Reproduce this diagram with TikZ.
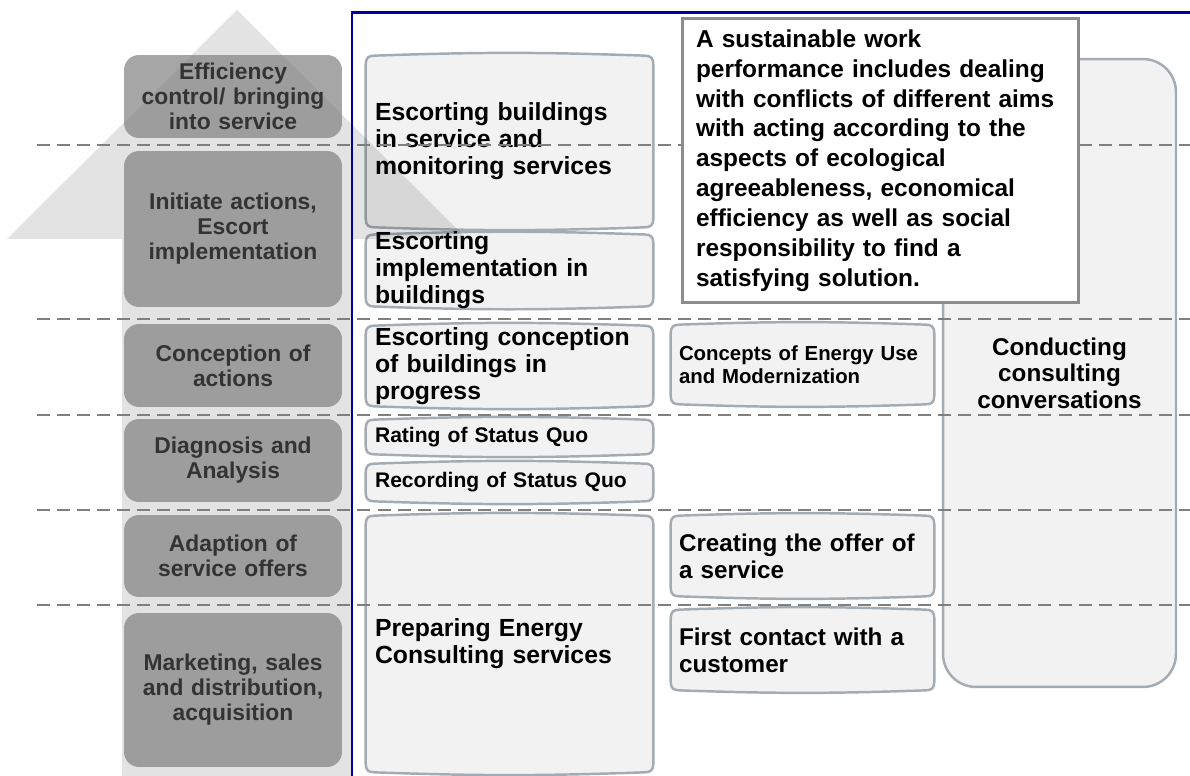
\documentclass[tikz,border=0pt]{standalone}
\usepackage{fontspec}
\setmainfont{Liberation Sans}
\usepackage{tikz}
\usetikzlibrary{positioning}
\pgfdeclarelayer{back}
\pgfsetlayers{back,main}

\definecolor{stagegray}{HTML}{808080}
\definecolor{stagetext}{HTML}{333333}
\definecolor{boxfill}{HTML}{F2F2F2}
\definecolor{boxline}{HTML}{A3ABB3}
\definecolor{frameblue}{HTML}{0000A0}
\definecolor{dashgray}{HTML}{7F7F7F}
\definecolor{notegray}{HTML}{8C8C8C}

\begin{document}
\begin{tikzpicture}[x=0.02cm,y=-0.02cm,
    stage/.style={fill=stagegray, fill opacity=0.7, text opacity=1, text=stagetext,
      rounded corners=0.3cm, inner xsep=0.1cm, inner ysep=0pt, text width=4.16cm,
      align=center, font=\bfseries\fontsize{13}{14.2}\selectfont},
    task/.style={inner xsep=0.18cm, inner ysep=0pt, text width=5.38cm, align=left,
      font=\bfseries\fontsize{14.1}{15.4}\selectfont},
    subtask/.style={task, inner xsep=0.16cm, text width=4.94cm,
      font=\bfseries\fontsize{13.8}{15.2}\selectfont},
    smalltask/.style={font=\bfseries\fontsize{12}{12.9}\selectfont},
    taskshape/.style={draw=boxline, line width=1.4pt, fill=boxfill},
    talk/.style={taskshape, rounded corners=0.66cm, inner xsep=0.2cm, text width=4.26cm,
      align=center, font=\bfseries\fontsize{13.8}{15}\selectfont},
    note/.style={draw=notegray, line width=1.7pt, fill=white, inner xsep=0.28cm,
      inner ysep=0pt, text width=7.38cm, align=left,
      font=\bfseries\fontsize{13.9}{17}\selectfont},
    sep/.style={dashgray, line width=1.1pt, dash pattern=on 7.4pt off 4pt},
    frame/.style={frameblue, line width=1.6pt}]
  \useasboundingbox (0,0) rectangle (1190,776);

  % Tasks of the energy consultant (middle column)
  \node[task, minimum height=3.54cm] (svc) at (509.5,141.5) {Escorting buildings\\in service and\\monitoring services};
  \node[task, minimum height=1.5cm] (impl) at (509.5,270.5) {Escorting\\implementation in\\buildings};
  \node[task, minimum height=1.72cm] (concept) at (509.5,366) {Escorting conception\\of buildings in\\progress};
  \node[task, smalltask, minimum height=0.8cm] (rate) at (509.5,437) {Rating of Status Quo};
  \node[task, smalltask, minimum height=0.86cm] (record) at (509.5,482.5) {Recording of Status Quo};
  \node[task, minimum height=5.24cm] (prep) at (509.5,644) {Preparing Energy\\Consulting services};

  % Second column of tasks
  \node[subtask, font=\bfseries\fontsize{11.6}{12.9}\selectfont, minimum height=1.7cm] (energy) at (802.5,364.5) {Concepts of Energy Use\\and Modernization};
  \node[subtask, minimum height=1.72cm] (offer) at (802.5,556) {Creating the offer of\\a service};
  \node[subtask, minimum height=1.72cm] (contact) at (802.5,650) {First contact with a\\customer};

  \begin{pgfonlayer}{back}
    % Boxes with slightly bulging top and bottom
    \foreach \n in {svc,impl,concept,rate,record,prep,energy,offer,contact}
      \filldraw[taskshape] ([yshift=-6.7pt]\n.north west)
        .. controls ([yshift=-3pt]\n.north west) and ([xshift=1.5pt,yshift=-1.7pt]\n.north west) .. ([xshift=5pt,yshift=-1.7pt]\n.north west)
        to[bend left=2] ([xshift=-5pt,yshift=-1.7pt]\n.north east)
        .. controls ([xshift=-1.5pt,yshift=-1.7pt]\n.north east) and ([yshift=-3pt]\n.north east) .. ([yshift=-6.7pt]\n.north east)
        -- ([yshift=6.7pt]\n.south east)
        .. controls ([yshift=3pt]\n.south east) and ([xshift=-1.5pt,yshift=1.7pt]\n.south east) .. ([xshift=-5pt,yshift=1.7pt]\n.south east)
        to[bend left=2] ([xshift=5pt,yshift=1.7pt]\n.south west)
        .. controls ([xshift=1.5pt,yshift=1.7pt]\n.south west) and ([yshift=3pt]\n.south west) .. ([yshift=6.7pt]\n.south west)
        -- cycle;

    % Big arrow behind the stages
    \fill[black, fill opacity=0.11] (7,239) -- (237,10) -- (467,239) -- (352,239)
      -- (352,776) -- (122,776) -- (122,239) -- cycle;
  \end{pgfonlayer}

  % Stages of the process (left column)
  \node[stage, minimum height=1.66cm] (eff) at (233,96.5) {Efficiency\\control/ bringing\\into service};
  \node[stage, minimum height=3.12cm] (init) at (233,229) {Initiate actions,\\Escort\\implementation};
  \node[stage, minimum height=1.66cm] (conc) at (233,365.5) {Conception of\\actions};
  \node[stage, minimum height=1.66cm] (diag) at (233,460.5) {Diagnosis and\\Analysis};
  \node[stage, minimum height=1.64cm] (adap) at (233,556) {Adaption of\\service offers};
  \node[stage, minimum height=3.08cm] (mark) at (233,690) {Marketing, sales\\and distribution,\\acquisition};

  % Consulting talks run through all stages
  \node[talk, minimum height=12.56cm] (talks) at (1059.5,373) {Conducting\\consulting\\conversations};

  % Borders between the stages
  \foreach \y in {145,319,415,510,605}
    \draw[sep] (37,\y) -- (1190,\y);

  % Statement on sustainability
  \node[note, minimum height=5.7cm] (aims) at (880.5,160.5) {A sustainable work\\performance includes dealing\\with conflicts of different aims\\with acting according to the\\aspects of ecological\\agreeableness, economical\\efficiency as well as social\\responsibility to find a\\satisfying solution.};

  % Frame of the consultant's tasks
  \draw[frame] (352,776) -- (352,12.5) -- (1190,12.5);
\end{tikzpicture}
\end{document}
